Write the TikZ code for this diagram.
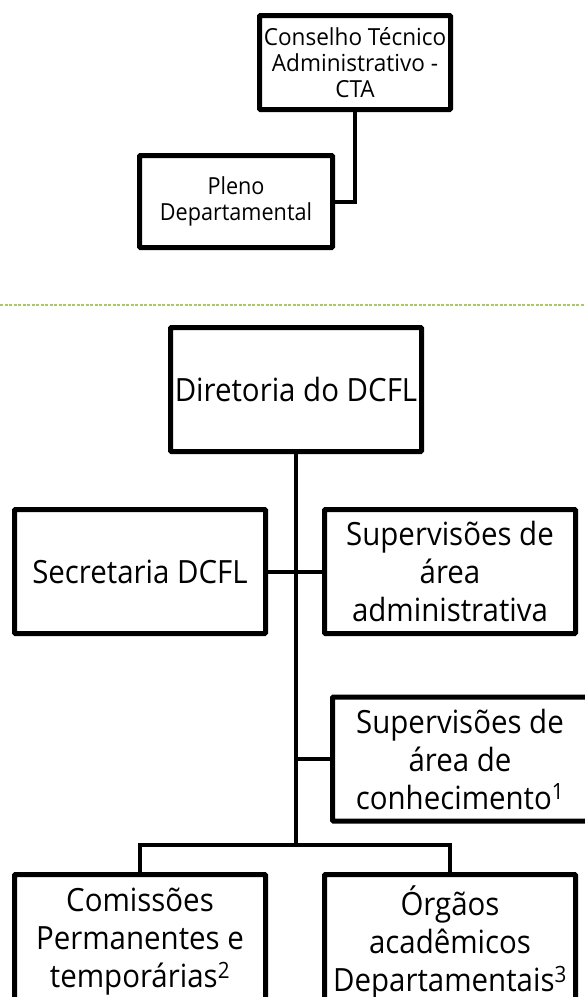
\documentclass[tikz,border=0pt]{standalone}
\usepackage{fontspec}
\setmainfont[FakeStretch=0.92]{Open Sans}
\newfontfamily\ctafont[FakeStretch=0.96]{Open Sans}
\definecolor{sepgreen}{RGB}{170,200,100}
\tikzset{
  unitbox/.style={draw, line width=5pt, rounded corners=1pt, align=center,
    inner sep=0pt, minimum width=251pt, minimum height=124pt,
    font=\fontsize{32}{38}\selectfont},
  topbox/.style={draw, line width=5pt, rounded corners=1pt, align=center,
    inner sep=0pt, font=\fontsize{23.5}{26}\selectfont},
  link/.style={line width=4pt},
  sepline/.style={sepgreen, line width=1.2pt, dash pattern=on 3pt off 1.5pt}
}
\begin{document}
\begin{tikzpicture}[x=1pt, y=-1pt]
    \useasboundingbox (0,0) rectangle (585,997);
    \clip (0,0) rectangle (585,997);
    % upper part
    \node[topbox, minimum width=191pt, minimum height=94pt] (cta) at (355,62.5)
        {\ctafont Conselho Técnico\\\ctafont Administrativo -\\\ctafont CTA};
    \node[topbox, minimum width=193pt, minimum height=92pt] (pleno) at (236,201.5)
        {Pleno\\Departamental};
    \draw[link] (cta.south) |- (pleno.east);
    \draw[sepline] (0,305) -- (585,305);
    % lower part
    \node[unitbox] (dir) at (296,389.5) {Diretoria do DCFL};
    \node[unitbox] (sec) at (140,571.5) {Secretaria DCFL};
    \node[unitbox] (supadm) at (450,571.5) {Supervisões de\\área\\administrativa};
    \node[unitbox, minimum width=255pt] (supcon) at (460,759)
        {Supervisões de\\área de\\conhecimento\textsuperscript{1}};
    \node[unitbox, minimum height=135pt] (com) at (140,942)
        {Comissões\\Permanentes e\\temporárias\textsuperscript{2}};
    \node[unitbox, minimum height=135pt] (org) at (450,942)
        {Órgãos\\acadêmicos\\Departamentais\textsuperscript{3}};
    \coordinate (split) at (296,845);
    \draw[link] (dir.south) -- (split);
    \draw[link] (sec.east) -- (supadm.west);
    \draw[link] (supcon.west) -- (supcon.west -| dir.south);
    \draw[link] (com.north) |- (split) -| (org.north);
\end{tikzpicture}
\end{document}
